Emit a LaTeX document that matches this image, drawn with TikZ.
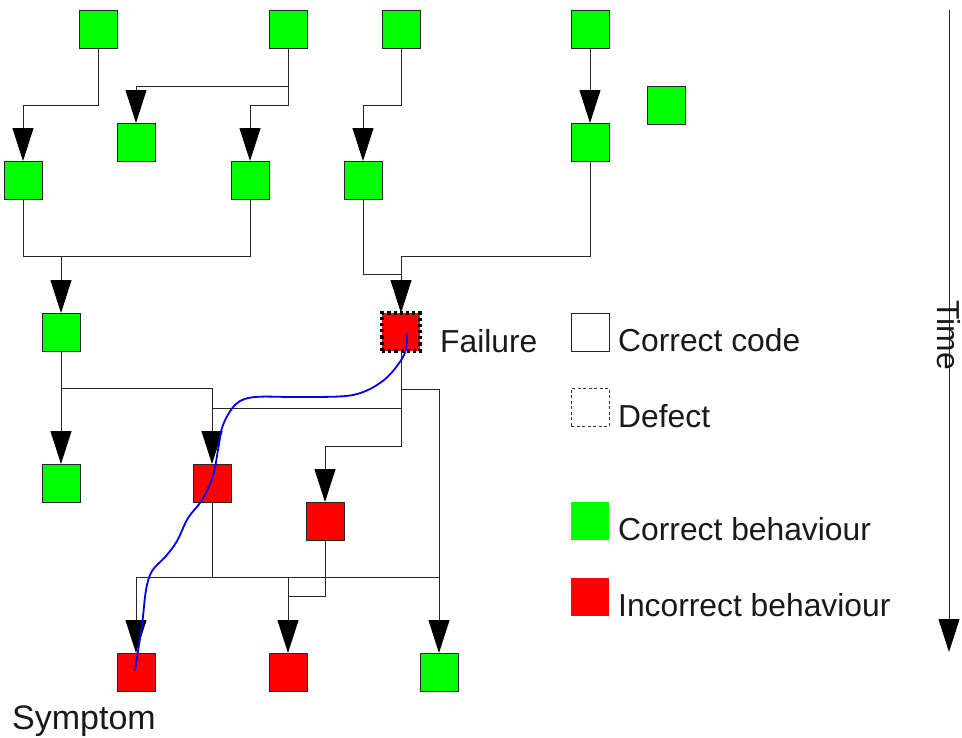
\documentclass[tikz,border=0pt]{standalone}
\usepackage{fontspec}
\setmainfont{Liberation Sans}
\usetikzlibrary{arrows.meta}
\definecolor{okgreen}{RGB}{0,255,0}
\definecolor{badred}{RGB}{255,0,0}
\definecolor{pathblue}{RGB}{0,0,230}
\tikzset{
  box/.style={draw=black!85, line width=1pt, minimum size=38pt, inner sep=0pt, outer sep=0pt},
  good/.style={box, fill=okgreen},
  bad/.style={box, fill=badred},
  defectbox/.style={bad, draw=black, line width=3.2pt, dash pattern=on 3.2pt off 3pt},
  wire/.style={draw=black!85, line width=1pt},
  arr/.style={wire, -{Triangle[length=33pt,width=21pt,color=black,fill=black]}},
  lbl/.style={font=\fontsize{31.8}{38}\selectfont, text=black!90, inner sep=0pt, anchor=base west},
}
\begin{document}
\begin{tikzpicture}[x=1pt,y=-1pt]
\useasboundingbox (0,0) rectangle (962,737);
% nodes
\node[good] (t1) at (98,29) {};
\node[good] (t2) at (288,29) {};
\node[good] (t3) at (401,29) {};
\node[good] (t4) at (590,29) {};
\node[good] (iso) at (666,105) {};
\node[good] (a2) at (136,142) {};
\node[good] (b2) at (590,142) {};
\node[good] (c1) at (23,180) {};
\node[good] (c2) at (250,180) {};
\node[good] (c3) at (363,180) {};
\node[good] (d1) at (61,332) {};
\node[defectbox] (fail) at (401,332) {};
\node[good] (e1) at (61,483) {};
\node[bad] (e2) at (212,483) {};
\node[bad] (e3) at (325,521) {};
\node[bad] (f1) at (136,672) {};
\node[bad] (f2) at (288,672) {};
\node[good] (f3) at (439,672) {};
% connectors
\draw[arr] (t1.south) -- (t1.south |- 0,105) -| (c1.north);
\draw[arr] (t2.south) -- (t2.south |- 0,86) -| (a2.north);
\draw[arr] (t2.south) -- (t2.south |- 0,105) -| (c2.north);
\draw[arr] (t3.south) -- (t3.south |- 0,105) -| (c3.north);
\draw[arr] (t4.south) -- (b2.north);
\draw[wire] (c1.south) |- (c2.south |- 0,256) -- (c2.south);
\draw[arr] (d1.north |- 0,256) -- (d1.north);
\draw[wire] (c3.south) |- (fail.north |- 0,274);
\draw[arr] (b2.south) |- (fail.north |- 0,256) -- (fail.north);
\draw[arr] (d1.south) -- (e1.north);
\draw[arr] (d1.south |- 0,388) -| (e2.north);
\draw[arr] (fail.south) -- (fail.south |- 0,446) -| (e3.north);
\draw[wire] (fail.south |- 0,408) -- (e2.north |- 0,408);
\draw[arr] (fail.south |- 0,389) -| (f3.north);
\draw[wire] (e2.south) -- (e2.south |- 0,577);
\draw[wire] (f1.north |- 0,577) -- (f3.north |- 0,577);
\draw[arr] (f1.north |- 0,577) -- (f1.north);
\draw[arr] (f2.north |- 0,577) -- (f2.north);
\draw[wire] (e3.south) |- (f2.north |- 0,596);
% propagation path
\draw[pathblue, line width=1.8pt, line cap=round] plot[smooth, tension=0.55] coordinates {
  (407,334) (404,355) (384,380) (353,395) (300,397) (255,397) (236,404)
  (223,425) (218,450) (213,476) (202,500) (188,518) (177,541) (166,556)
  (152,571) (146,590) (142,625) (135,670)};
% labels
\node[lbl] (faillbl) at (440,352) {Failure};
\node[lbl, font=\fontsize{34}{40}\selectfont] (symlbl) at (12,729) {Symptom};
% legend
\node[box, fill=white] (lg1) at (590,332) {};
\node[box, fill=white, draw=black!80, line width=0.8pt, dash pattern=on 3pt off 2.5pt] (lg2) at (590,407) {};
\node[box, draw=none, fill=okgreen] (lg3) at (590,521) {};
\node[box, draw=none, fill=badred] (lg4) at (590,597) {};
\node[lbl] (lt1) at (618,351) {Correct code};
\node[lbl] (lt2) at (618,427) {Defect};
\node[lbl] (lt3) at (618,540) {Correct behaviour};
\node[lbl] (lt4) at (618,616) {Incorrect behaviour};
% time axis
\coordinate (ts) at (949,10);
\coordinate (te) at (949,652);
\draw[arr] (ts) -- (te);
\node[lbl, rotate=-90] (tl) at (937,300) {Time};
\end{tikzpicture}
\end{document}
